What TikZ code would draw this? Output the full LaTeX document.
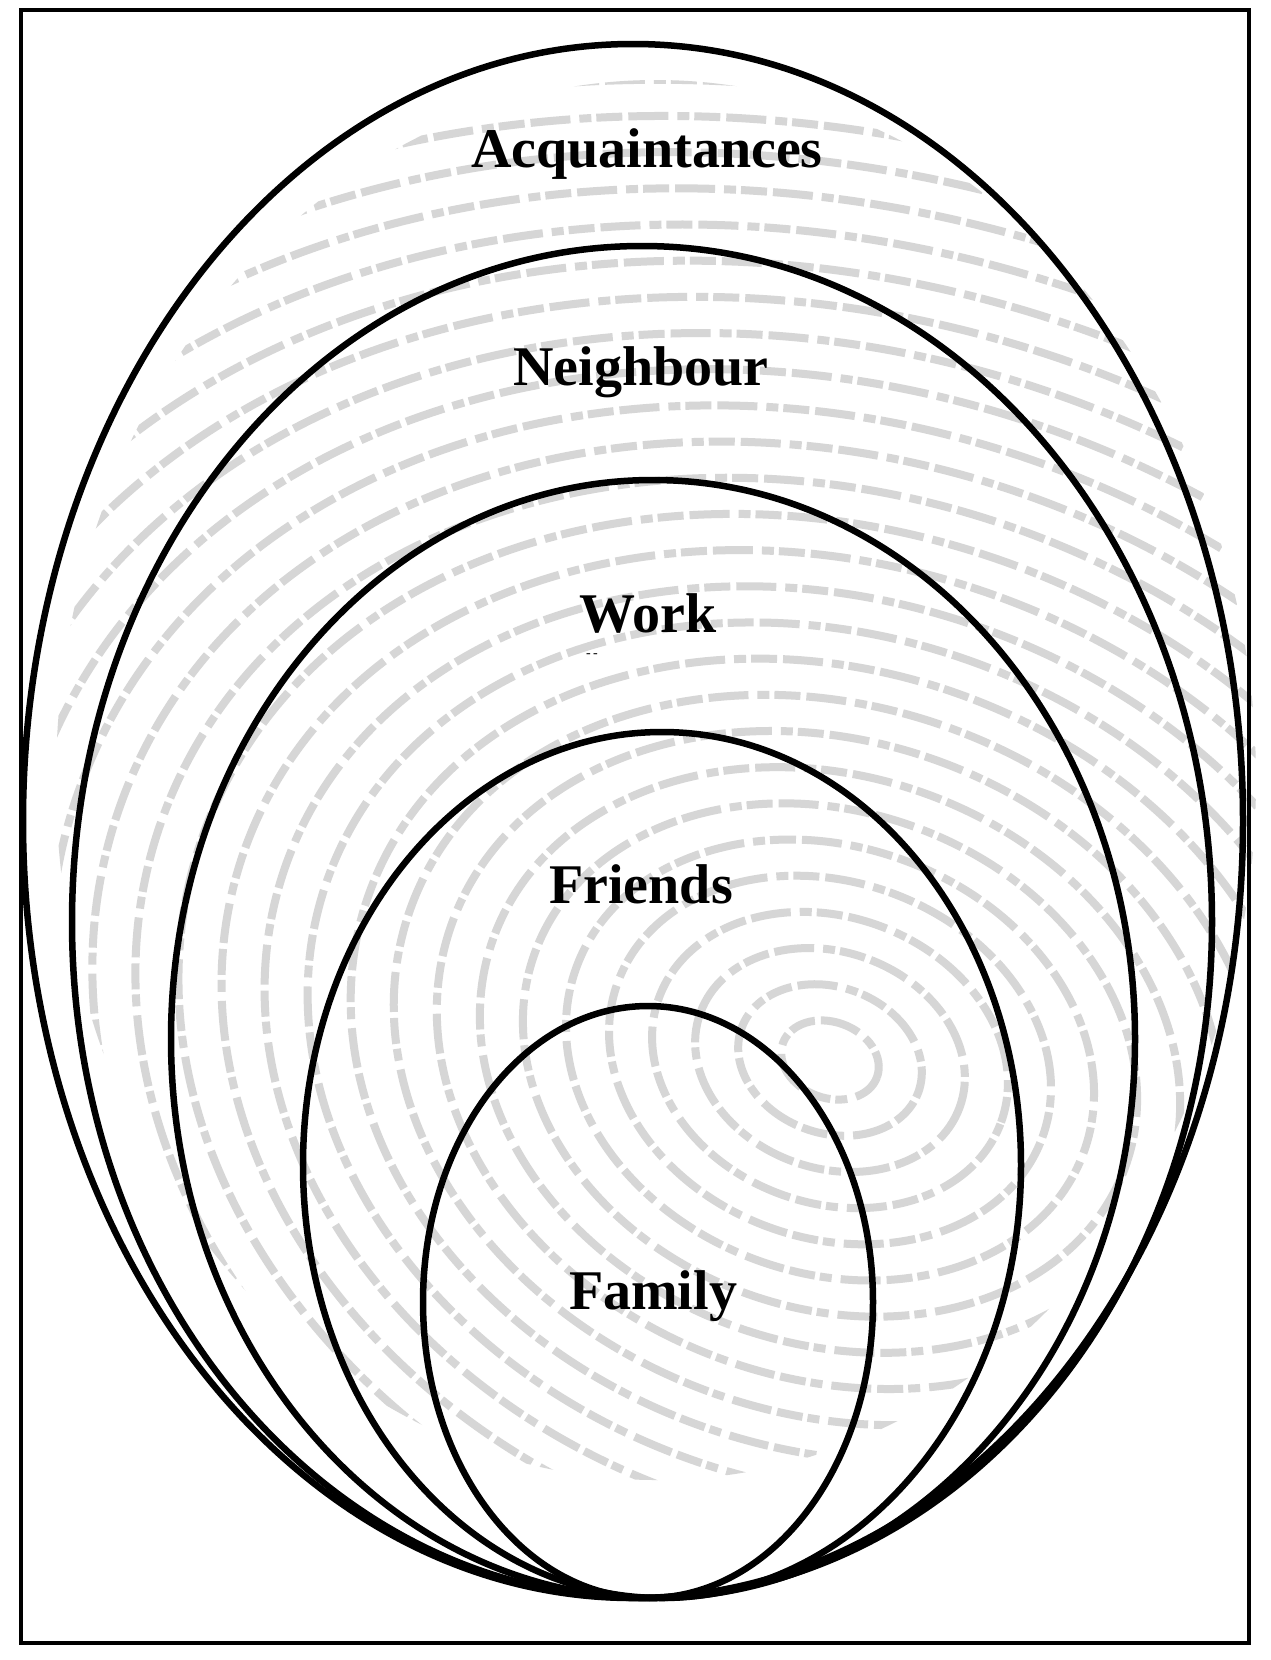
\documentclass[tikz,border=0pt]{standalone}
\usepackage{fontspec}
\setmainfont{Liberation Serif}
\usetikzlibrary{shapes.geometric}
\begin{document}
\begin{tikzpicture}[x=1pt,y=-1pt,
  ring/.style={draw=black, ellipse, line width=6.5pt, inner sep=0pt, outer sep=0pt},
  lbl/.style={font=\bfseries\fontsize{56}{64}\selectfont, anchor=base, inner sep=0pt},
  ridge/.style={draw=black!16, line width=8pt, dash pattern=on 26pt off 5pt on 12pt off 9pt on 40pt off 6pt}]
\useasboundingbox (0,0) rectangle (1271,1660);
\fill[white] (0,0) rectangle (1271,1660);
% fingerprint background
\begin{scope}
  \clip (656,780) ellipse [x radius=600pt, y radius=700pt];
  \foreach \k in {0,...,27}{
    \draw[ridge, rotate around={-20:(830,1060)}]
      (830,1060) ellipse [x radius={50pt+44pt*\k}, y radius={38pt+35pt*\k}];
  }
\end{scope}
% frame
\draw[line width=4pt] (21,10) -- (1249,10) -- (1249,1643) -- (21,1643) -- cycle;
% rings
\node[ring, minimum width=1220pt, minimum height=1554pt] (acq) at (633,821) {};
\node[ring, minimum width=1140pt, minimum height=1352pt] (nei) at (642,922) {};
\node[ring, minimum width=964pt, minimum height=1118pt] (wor) at (653,1039) {};
\node[ring, minimum width=718pt, minimum height=866pt] (fri) at (662,1165) {};
\node[ring, minimum width=450pt, minimum height=592pt] (fam) at (648,1302) {};
% labels
\node[lbl] (tacq) at (647,167) {Acquaintances};
\node[lbl] (tnei) at (641,385) {Neighbour};
\node[lbl] (twor) at (648,632) {Work};
\node[lbl] (tfri) at (641,903) {Friends};
\node[lbl] (tfam) at (653,1309) {Family};
\node[font=\fontsize{14}{14}\selectfont, inner sep=0pt] (dash) at (592,656) {-\,-};
\end{tikzpicture}
\end{document}
